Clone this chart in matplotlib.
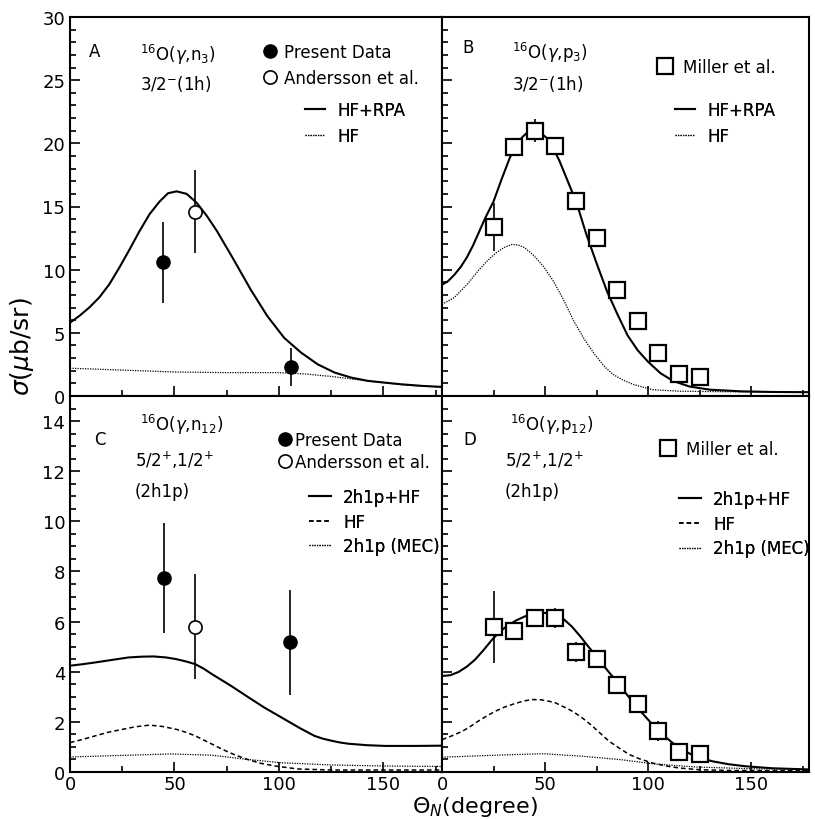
import numpy as np
import matplotlib
matplotlib.use('Agg')
import matplotlib.pyplot as plt
from matplotlib.ticker import MultipleLocator
from matplotlib.lines import Line2D

################################################################################
# panel A : 16O(g,n3)  3/2-(1h)
A_rpa_theta = [0, 4.4, 9.2, 14, 18.8, 23.6, 28.5, 33.3, 38.1, 42.9, 46.9, 51,
               55.8, 60.6, 65.5, 70.3, 78.3, 86.4, 94.4, 102.5, 110.6, 118.6,
               126.7, 134.7, 142.8, 158.9, 168.6, 178]
A_rpa = [5.8, 6.33, 7.0, 7.8, 8.84, 10.16, 11.6, 13.06, 14.4, 15.4, 16.05, 16.2,
         16.0, 15.3, 14.25, 13.06, 10.8, 8.44, 6.33, 4.6, 3.43, 2.5, 1.85, 1.45,
         1.19, 0.92, 0.8, 0.72]
A_hf_theta = [0, 25, 50, 75, 100, 112, 125, 137, 150, 162, 178]
A_hf = [2.2, 2.05, 1.9, 1.85, 1.85, 1.75, 1.55, 1.3, 1.05, 0.85, 0.7]
A_pres_theta = [44.6, 105.7]
A_pres = [10.6, 2.3]
A_pres_err = [3.2, 1.5]
A_and_theta = [60]
A_and = [14.6]
A_and_err = [3.3]

# panel B : 16O(g,p3)  3/2-(1h)
B_rpa_theta = [0, 3, 6, 9, 12, 15, 18, 21, 25, 29, 33, 36, 39, 42, 45, 48, 51,
               54, 57, 60, 63, 66, 70, 75, 80, 85, 90, 95, 100, 106, 112, 120,
               130, 145, 160, 178]
B_rpa = [8.8, 9.1, 9.6, 10.2, 10.95, 11.9, 13.0, 14.1, 15.4, 17.2, 18.9, 19.8,
         20.5, 20.95, 21.0, 20.8, 20.4, 19.6, 18.6, 17.4, 16.2, 14.9, 12.8, 10.5,
         8.3, 6.5, 4.8, 3.6, 2.7, 1.8, 1.2, 0.75, 0.5, 0.37, 0.32, 0.3]
B_hf_theta = [0, 6, 12, 18, 22, 26, 30, 34, 37, 40, 44, 49, 54, 59, 64, 69,
              74, 79, 83, 88, 93, 102, 115, 130, 150, 178]
B_hf = [7.25, 7.8, 8.8, 10.0, 10.7, 11.3, 11.75, 12.0, 11.95, 11.75, 11.2, 10.3,
        9.1, 7.6, 5.9, 4.5, 3.3, 2.3, 1.7, 1.25, 0.9, 0.5, 0.38, 0.35, 0.32, 0.3]
miller_theta = [25, 35, 45, 55, 65, 75, 85, 95, 105, 115, 125]
B_miller = [13.4, 19.7, 21.0, 19.8, 15.4, 12.5, 8.4, 5.9, 3.4, 1.75, 1.5]
B_miller_err = [1.9, 0.3, 0.9, 0.3, 0.3, 0.3, 0.3, 0.3, 0.3, 0.3, 0.3]

# panel C : 16O(g,n12)  5/2+,1/2+ (2h1p)
C_tot_theta = [0, 6, 12, 20, 28, 34, 40, 46, 51, 56, 60, 64, 68, 77, 85, 93,
               104, 110, 117, 121, 125, 129, 133, 142, 151, 165, 178]
C_tot = [4.24, 4.3, 4.37, 4.47, 4.57, 4.6, 4.61, 4.57, 4.5, 4.4, 4.3, 4.12, 3.9,
         3.44, 3.0, 2.57, 2.04, 1.75, 1.44, 1.33, 1.25, 1.18, 1.13, 1.07, 1.04,
         1.04, 1.05]
C_hf_theta = [0, 6, 12, 18, 25, 31, 38, 44, 51, 56, 60, 67, 73, 79, 85, 91,
              98, 109, 125, 150, 178]
C_hf = [1.17, 1.3, 1.44, 1.58, 1.7, 1.8, 1.87, 1.82, 1.7, 1.57, 1.44, 1.15, 0.9,
        0.68, 0.5, 0.35, 0.24, 0.12, 0.08, 0.08, 0.08]
C_mec_theta = [0, 28, 48, 68, 85, 101, 125, 150, 178]
C_mec = [0.6, 0.67, 0.72, 0.67, 0.5, 0.37, 0.28, 0.24, 0.22]
C_pres_theta = [44.8, 105.2]
C_pres = [7.75, 5.17]
C_pres_err = [2.2, 2.1]
C_and_theta = [60]
C_and = [5.8]
C_and_err = [2.1]

# panel D : 16O(g,p12)  5/2+,1/2+ (2h1p)
D_tot_theta = [0, 4, 8, 12, 16, 20, 24, 28, 32, 36, 40, 44, 48, 52, 55, 59, 63,
               67, 71, 75, 79, 83, 87, 92, 97, 102, 107, 112, 116, 123, 131, 139,
               147, 160, 178]
D_tot = [3.83, 3.86, 3.99, 4.2, 4.48, 4.85, 5.25, 5.6, 5.85, 6.05, 6.2, 6.32,
         6.36, 6.33, 6.28, 6.1, 5.8, 5.42, 5.0, 4.6, 4.18, 3.78, 3.36, 2.85,
         2.36, 1.9, 1.49, 1.15, 0.9, 0.62, 0.43, 0.31, 0.23, 0.15, 0.1]
D_hf_theta = [0, 5, 10, 14, 18, 22, 26, 30, 35, 40, 44, 48, 52, 55, 59, 62, 65,
              68, 72, 75, 78, 81, 86, 91, 96, 102, 108, 115, 125, 140, 178]
D_hf = [1.29, 1.45, 1.63, 1.83, 2.05, 2.25, 2.43, 2.58, 2.72, 2.84, 2.89, 2.88,
        2.82, 2.76, 2.6, 2.48, 2.33, 2.16, 1.9, 1.68, 1.45, 1.23, 0.95, 0.69,
        0.52, 0.36, 0.25, 0.16, 0.09, 0.06, 0.05]
D_mec_theta = [0, 26, 49, 68, 87, 103, 123, 150, 178]
D_mec = [0.59, 0.67, 0.73, 0.63, 0.49, 0.32, 0.2, 0.13, 0.1]
D_miller = [5.79, 5.63, 6.16, 6.16, 4.8, 4.52, 3.49, 2.73, 1.63, 0.79, 0.73]
D_miller_err = [1.43, 0.35, 0.35, 0.4, 0.4, 0.3, 0.35, 0.3, 0.4, 0.2, 0.2]

################################################################################
W, H = 815, 820
# panel boxes in pixels: left, top, right, bottom
BOX = {'A': (70, 18, 442, 397), 'B': (442, 18, 809, 397),
       'C': (70, 397, 442, 773), 'D': (442, 397, 809, 773)}
FS = 12

fig = plt.figure(figsize=(W/100, H/100), dpi=100)

def make_ax(key, ymax, ymajor, yminor, ylabels, xlabels):
    l, t, r, b = BOX[key]
    ax = fig.add_axes([l/W, 1-b/H, (r-l)/W, (b-t)/H])
    ax.set_xlim(0, 178)
    ax.set_ylim(0, ymax)
    ax.xaxis.set_major_locator(MultipleLocator(50))
    ax.xaxis.set_minor_locator(MultipleLocator(25))
    ax.yaxis.set_major_locator(MultipleLocator(ymajor))
    ax.yaxis.set_minor_locator(MultipleLocator(yminor))
    ax.tick_params(which='both', direction='in', top=False, right=False,
                   width=1.2, labelsize=13)
    ax.tick_params(which='major', length=7)
    ax.tick_params(which='minor', length=4)
    ax.tick_params(axis='x', pad=2)
    if not ylabels:
        ax.set_yticklabels([])
    if not xlabels:
        ax.set_xticklabels([])
    for s in ax.spines.values():
        s.set_linewidth(1.5)
    return ax

def frac(key, x, y):
    l, t, r, b = BOX[key]
    return (x-l)/(r-l), 1-(y-t)/(b-t)

def label(ax, key, x, y, s, **kw):
    fx, fy = frac(key, x, y)
    ax.text(fx, fy, s, transform=ax.transAxes, fontsize=FS, va='center', **kw)

def leg(ax, key, x, y, handles, labels, hlen, pad, spacing):
    fx, fy = frac(key, x, y)
    lg = ax.legend(handles, labels, loc='upper left', bbox_to_anchor=(fx, fy),
                   frameon=False, fontsize=FS, handlelength=hlen,
                   handletextpad=pad, labelspacing=spacing, borderpad=0,
                   borderaxespad=0)
    ax.add_artist(lg)

solid = dict(color='black', lw=1.5, ls='-')
dotted = dict(color='black', lw=0.9, ls=(0, (1, 1)))
dashed = dict(color='black', lw=1.1, ls=(0, (3, 2)))
ebar = dict(ls='none', ecolor='black', elinewidth=1.2, capsize=0)
fcirc = dict(fmt='o', ms=9.5, mfc='black', mec='black', **ebar)
ocirc = dict(fmt='o', ms=9.5, mfc='white', mec='black', mew=1.2, **ebar)
sq = dict(fmt='s', ms=11, mfc='white', mec='black', mew=1.6, **ebar)

h_fc = Line2D([], [], marker='o', ms=9.5, mfc='black', mec='black', ls='none')
h_oc = Line2D([], [], marker='o', ms=9.5, mfc='white', mec='black', mew=1.2, ls='none')
h_sq = Line2D([], [], marker='s', ms=11, mfc='white', mec='black', mew=1.6, ls='none')
h_so = Line2D([], [], **solid)
h_do = Line2D([], [], **dotted)
h_da = Line2D([], [], **dashed)

#---------------------------------------------------------------------------
ax = make_ax('A', 30, 5, 1, True, False)
ax.plot(A_rpa_theta, A_rpa, **solid)
ax.plot(A_hf_theta, A_hf, **dotted)
ax.errorbar(A_pres_theta, A_pres, yerr=A_pres_err, **fcirc)
ax.errorbar(A_and_theta, A_and, yerr=A_and_err, **ocirc)
label(ax, 'A', 95, 52, 'A', ha='center')
label(ax, 'A', 140, 55, r'$^{16}$O($\gamma$,n$_3$)')
label(ax, 'A', 140, 84, r'3/2$^{-}$(1h)')
leg(ax, 'A', 262, 44, [h_fc, h_oc], ['Present Data', 'Andersson et al.'], 1.0, 0.3, 0.45)
leg(ax, 'A', 305, 102, [h_so, h_do], ['HF+RPA', 'HF'], 1.2, 0.75, 0.45)

#---------------------------------------------------------------------------
ax = make_ax('B', 30, 5, 1, False, False)
ax.plot(B_rpa_theta, B_rpa, **solid)
ax.plot(B_hf_theta, B_hf, **dotted)
ax.errorbar(miller_theta, B_miller, yerr=B_miller_err, **sq)
label(ax, 'B', 468, 48, 'B', ha='center')
label(ax, 'B', 512, 53, r'$^{16}$O($\gamma$,p$_3$)')
label(ax, 'B', 512, 84, r'3/2$^{-}$(1h)')
leg(ax, 'B', 656, 59, [h_sq], ['Miller et al.'], 1.1, 0.5, 0.45)
leg(ax, 'B', 675, 102, [h_so, h_do], ['HF+RPA', 'HF'], 1.2, 0.75, 0.45)

#---------------------------------------------------------------------------
ax = make_ax('C', 15, 2, 0.5, True, True)
ax.plot(C_tot_theta, C_tot, **solid)
ax.plot(C_hf_theta, C_hf, **dashed)
ax.plot(C_mec_theta, C_mec, **dotted)
ax.errorbar(C_pres_theta, C_pres, yerr=C_pres_err, **fcirc)
ax.errorbar(C_and_theta, C_and, yerr=C_and_err, **ocirc)
label(ax, 'C', 100, 440, 'C', ha='center')
label(ax, 'C', 140, 425, r'$^{16}$O($\gamma$,n$_{12}$)')
label(ax, 'C', 135, 460, r'5/2$^{+}$,1/2$^{+}$')
label(ax, 'C', 135, 492, '(2h1p)')
leg(ax, 'C', 277, 432, [h_fc, h_oc], ['Present Data', 'Andersson et al.'], 1.0, 0.1, 0.25)
leg(ax, 'C', 309, 489, [h_so, h_da, h_do], ['2h1p+HF', 'HF', '2h1p (MEC)'], 1.3, 0.75, 0.4)

#---------------------------------------------------------------------------
ax = make_ax('D', 15, 2, 0.5, False, True)
ax.plot(D_tot_theta, D_tot, **solid)
ax.plot(D_hf_theta, D_hf, **dashed)
ax.plot(D_mec_theta, D_mec, **dotted)
ax.errorbar(miller_theta, D_miller, yerr=D_miller_err, **sq)
label(ax, 'D', 470, 440, 'D', ha='center')
label(ax, 'D', 510, 425, r'$^{16}$O($\gamma$,p$_{12}$)')
label(ax, 'D', 505, 460, r'5/2$^{+}$,1/2$^{+}$')
label(ax, 'D', 505, 492, '(2h1p)')
leg(ax, 'D', 659, 441, [h_sq], ['Miller et al.'], 1.1, 0.55, 0.45)
leg(ax, 'D', 679, 491, [h_so, h_da, h_do], ['2h1p+HF', 'HF', '2h1p (MEC)'], 1.3, 0.75, 0.4)

#---------------------------------------------------------------------------
fig.text(22/W, 1-347/H, r'$\sigma(\mu$b/sr)', rotation=90, fontsize=18,
         ha='center', va='center')
fig.text(475/W, 1/H, r'$\Theta_N$(degree)', fontsize=16,
         ha='center', va='bottom')

fig.savefig('out.png', dpi=100)
